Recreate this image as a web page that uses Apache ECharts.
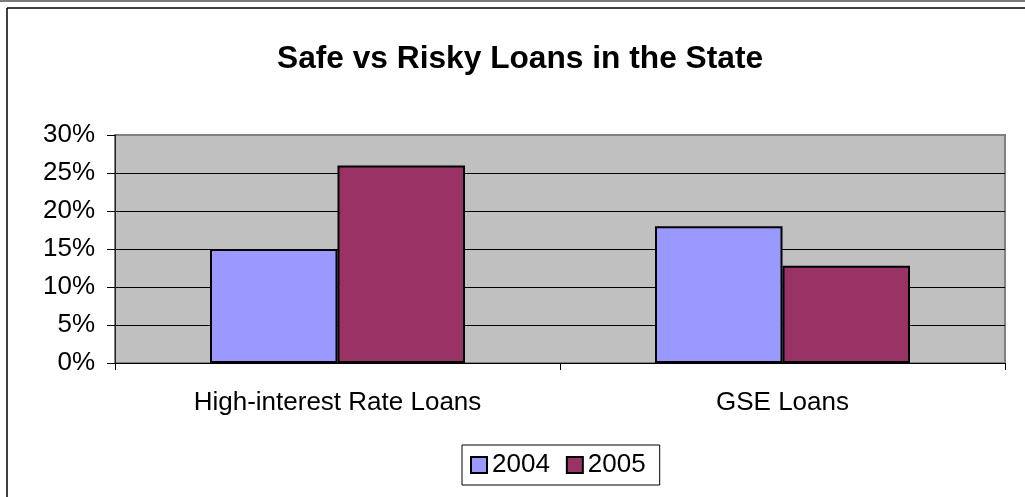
<!DOCTYPE html>
<html>
<head>
<meta charset="utf-8">
<title>Safe vs Risky Loans in the State</title>
<script src="https://cdn.jsdelivr.net/npm/echarts@6/dist/echarts.min.js"></script>
<style>
  html, body { margin: 0; padding: 0; background: #ffffff; }
  #chart { width: 1025px; height: 497px; }
</style>
</head>
<body>
<div id="chart"></div>
<script>
// Loan categories and yearly shares (percent of loans)
const categories = ['High-interest Rate Loans', 'GSE Loans'];
const seriesNames = ['2004', '2005'];
const values2004 = [15, 18];
const values2005 = [26, 12.8];
const yTicks = [0, 5, 10, 15, 20, 25, 30];

const FONT = 'Liberation Sans, Arial, Helvetica, sans-serif';

const chart = echarts.init(document.getElementById('chart'), null, { renderer: 'canvas' });

chart.setOption({
  backgroundColor: '#ffffff',
  animation: false,
  title: {
    text: 'Safe vs Risky Loans in the State',
    left: 277,
    top: 43,
    padding: 0,
    textStyle: { fontFamily: FONT, fontSize: 31.7, fontWeight: 'bold', color: '#000000' }
  },
  graphic: [
    { type: 'rect', shape: { x: 0, y: 0, width: 1025, height: 2 }, style: { fill: '#7a7a7a' }, silent: true },
    { type: 'line', shape: { x1: 7, y1: 8, x2: 1025, y2: 8 }, style: { stroke: '#000000', lineWidth: 1.5 }, silent: true },
    { type: 'line', shape: { x1: 7, y1: 8, x2: 7, y2: 497 }, style: { stroke: '#000000', lineWidth: 1.5 }, silent: true }
  ],
  legend: {
    data: seriesNames,
    left: 462,
    top: 445,
    orient: 'horizontal',
    padding: [7, 14, 7, 8],
    itemWidth: 16,
    itemHeight: 16,
    itemGap: 16,
    icon: 'rect',
    borderColor: '#000000',
    borderWidth: 1,
    selectedMode: false,
    itemStyle: { borderColor: '#000000', borderWidth: 2 },
    textStyle: { fontFamily: FONT, fontSize: 26, color: '#000000', padding: [0, 0, 0, 0] }
  },
  grid: {
    left: 115,
    top: 135,
    width: 890,
    height: 228,
    show: true,
    backgroundColor: '#c0c0c0',
    borderColor: '#808080',
    borderWidth: 2,
    containLabel: false
  },
  xAxis: {
    type: 'category',
    data: categories,
    boundaryGap: true,
    axisLine: { show: true, lineStyle: { color: '#000000', width: 1 } },
    axisTick: { show: true, length: 7, lineStyle: { color: '#000000', width: 1 } },
    axisLabel: { fontFamily: FONT, fontSize: 26, color: '#000000', margin: 27 },
    splitLine: { show: false }
  },
  yAxis: {
    type: 'value',
    min: yTicks[0],
    max: yTicks[yTicks.length - 1],
    interval: yTicks[1] - yTicks[0],
    axisLine: { show: true, lineStyle: { color: '#222222', width: 1 } },
    axisTick: { show: true, length: 8, lineStyle: { color: '#000000', width: 1 } },
    axisLabel: { fontFamily: FONT, fontSize: 26, color: '#000000', margin: 20, formatter: '{value}%' },
    splitLine: { show: true, showMinLine: false, showMaxLine: false, lineStyle: { color: '#000000', width: 1 } }
  },
  series: [
    {
      name: seriesNames[0],
      type: 'bar',
      data: values2004,
      barGap: '0%',
      barCategoryGap: '42.7%',
      itemStyle: { color: '#9999ff', borderColor: '#000000', borderWidth: 2 }
    },
    {
      name: seriesNames[1],
      type: 'bar',
      data: values2005,
      barGap: '0%',
      barCategoryGap: '42.7%',
      itemStyle: { color: '#993366', borderColor: '#000000', borderWidth: 2 }
    }
  ]
});
</script>
</body>
</html>
